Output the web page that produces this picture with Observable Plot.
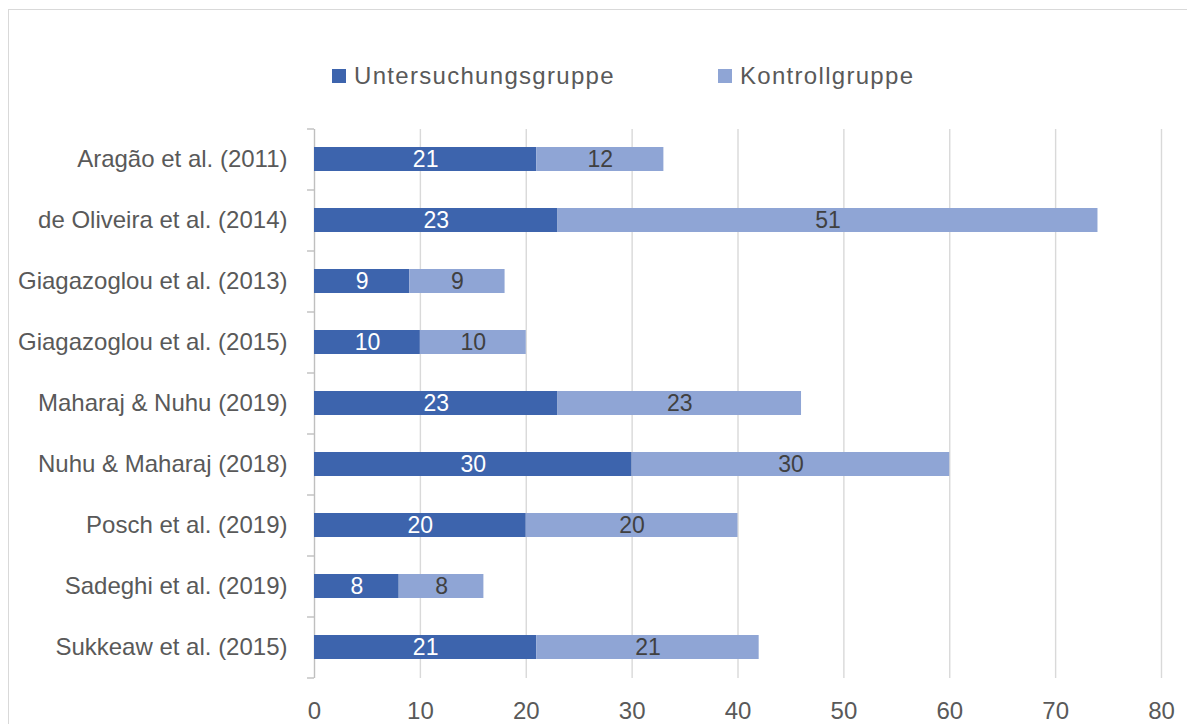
<!DOCTYPE html>
<html>
<head>
<meta charset="utf-8">
<script src="https://cdn.jsdelivr.net/npm/d3@7"></script>
<script src="https://cdn.jsdelivr.net/npm/@observablehq/plot@0.6"></script>
<style>
  body { margin: 0; background: #fff; }
  #wrap { position: relative; width: 1187px; height: 724px; overflow: hidden; font-family: "Liberation Sans", Arial, sans-serif; }
  #frame { position: absolute; left: 8px; top: 9px; width: 1200px; height: 760px; border: 1.5px solid #d9d9d9; box-sizing: border-box; }
  #chart { position: absolute; left: 0; top: 0; }
  #legend { position: absolute; top: 64px; left: 0; width: 1187px; height: 24px; }
  .item { position: absolute; top: 0; display: flex; align-items: center; font-size: 24px; letter-spacing: 1.3px; color: #595959; line-height: 24px; }
  .sw { width: 14px; height: 14px; margin-right: 8px; }
</style>
</head>
<body>
<div id="wrap">
  <div id="frame"></div>
  <div id="chart"></div>
  <div id="legend"></div>
</div>
<script>
const studies = [
  "Aragão et al. (2011)",
  "de Oliveira et al. (2014)",
  "Giagazoglou et al. (2013)",
  "Giagazoglou et al. (2015)",
  "Maharaj & Nuhu (2019)",
  "Nuhu & Maharaj (2018)",
  "Posch et al. (2019)",
  "Sadeghi et al. (2019)",
  "Sukkeaw et al. (2015)"
];
const untersuchung = [21, 23, 9, 10, 23, 30, 20, 8, 21];
const kontroll = [12, 51, 9, 10, 23, 30, 20, 8, 21];
const seriesNames = ["Untersuchungsgruppe", "Kontrollgruppe"];
const seriesColors = ["#3d64ad", "#8fa5d5"];
const labelColors = ["#ffffff", "#404040"];
const xTicks = [0, 10, 20, 30, 40, 50, 60, 70, 80];

const rows = [];
studies.forEach((s, i) => {
  rows.push({study: s, group: seriesNames[0], value: untersuchung[i]});
  rows.push({study: s, group: seriesNames[1], value: kontroll[i]});
});

const W = 1187, H = 724, mT = 129, mB = 46, mL = 314, mR = 26;
const step = (H - mT - mB) / studies.length;

const chart = Plot.plot({
  width: W, height: H,
  marginTop: mT, marginBottom: mB, marginLeft: mL, marginRight: mR,
  style: {fontFamily: "'Liberation Sans', Arial, sans-serif", fontSize: "24px", color: "#595959", background: "transparent"},
  x: {domain: [0, 80], ticks: xTicks, label: null, tickSize: 0, tickPadding: 23},
  y: {domain: studies, paddingInner: 0.6, paddingOuter: 0.3, label: null, tickSize: 0, tickPadding: 27},
  color: {domain: seriesNames, range: seriesColors},
  marks: [
    Plot.ruleX(xTicks.filter(d => d > 0), {stroke: "#d9d9d9", strokeWidth: 1.4}),
    Plot.ruleX([0], {stroke: "#bfbfbf", strokeWidth: 1.4}),
    Plot.ruleY(studies, {y: d => d, x1: -0.66, x2: 0, dy: -step / 2, stroke: "#bfbfbf", strokeWidth: 1.4}),
    Plot.ruleY([studies[studies.length - 1]], {y: d => d, x1: -0.66, x2: 0, dy: step / 2, stroke: "#bfbfbf", strokeWidth: 1.4}),
    Plot.barX(rows, Plot.stackX({x: "value", y: "study", fill: "group", order: seriesNames, inset: 0})),
    Plot.text(rows, Plot.stackX({x: "value", y: "study", z: "group", order: seriesNames, text: d => String(d.value),
      fill: d => labelColors[seriesNames.indexOf(d.group)], fontSize: 23})),
    Plot.axisX({ticks: xTicks, tickSize: 0, tickPadding: 23, fontSize: 24}),
    Plot.axisY({tickSize: 0, tickPadding: 27, fontSize: 24})
  ]
});
document.getElementById("chart").appendChild(chart);

const legend = document.getElementById("legend");
const lefts = [332, 718];
seriesNames.forEach((n, i) => {
  const it = document.createElement("div");
  it.className = "item";
  it.style.left = lefts[i] + "px";
  const sw = document.createElement("div");
  sw.className = "sw";
  sw.style.background = seriesColors[i];
  it.appendChild(sw);
  const t = document.createElement("span");
  t.textContent = n;
  it.appendChild(t);
  legend.appendChild(it);
});
</script>
</body>
</html>
